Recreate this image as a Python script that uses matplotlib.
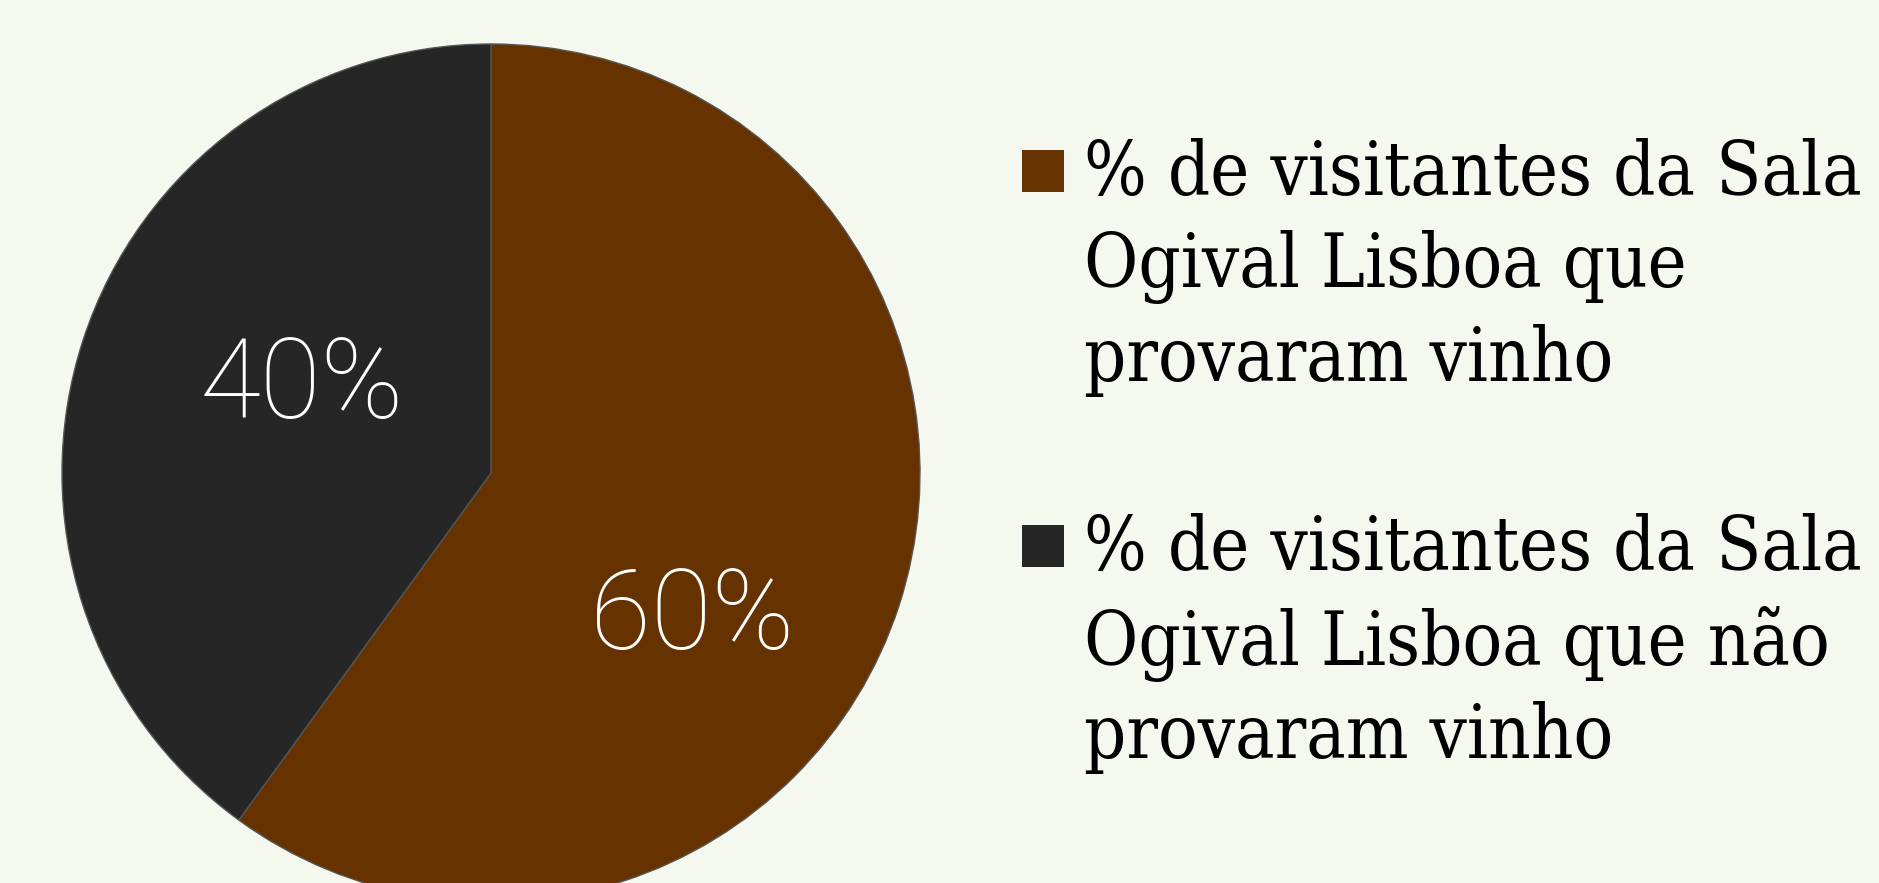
import matplotlib
matplotlib.use('Agg')
import matplotlib.pyplot as plt
from matplotlib.patches import Rectangle

# data
shares = [60, 40]
pct_labels = ['60%', '40%']
legend_labels = [
    '% de visitantes da Sala\nOgival Lisboa que\nprovaram vinho',
    '% de visitantes da Sala\nOgival Lisboa que não\nprovaram vinho',
]
colors = ['#663300', '#262626']
bg = '#F5F8EE'

W, H = 1879, 883
fig = plt.figure(figsize=(W / 100, H / 100), dpi=100, facecolor=bg)

# pie axes placed in pixels: centre (491, 473), radius 429
cx, cy, r = 491, 473, 429
ax = fig.add_axes([(cx - r) / W, (H - cy - r) / H, 2 * r / W, 2 * r / H])
ax.set_facecolor(bg)
wedges, _ = ax.pie(shares, colors=colors, startangle=90, counterclock=False,
                   radius=1, wedgeprops=dict(edgecolor='#555555', linewidth=1))
ax.set_xlim(-1, 1)
ax.set_ylim(-1, 1)
ax.set_aspect('equal')
ax.axis('off')

# percentage labels
label_pos = [(0.47, -0.34), (-0.44, 0.20)]
for txt, (x, y) in zip(pct_labels, label_pos):
    ax.text(x, y, txt, color='white', fontsize=80, family='Roboto',
            fontweight='light', ha='center', va='center')

# legend drawn by hand
entry_top = [150, 525]
for lab, col, top in zip(legend_labels, colors, entry_top):
    fig.patches.append(Rectangle((1022 / W, (H - top - 42) / H), 42 / W, 42 / H,
                                 transform=fig.transFigure, facecolor=col,
                                 edgecolor='none'))
    fig.text(1084 / W, (H - top + 12) / H, lab, fontsize=53, family='DejaVu Serif',
             fontstretch='condensed', color='black', ha='left', va='top',
             linespacing=1.34)

fig.savefig('out.png', dpi=100, facecolor=bg)
